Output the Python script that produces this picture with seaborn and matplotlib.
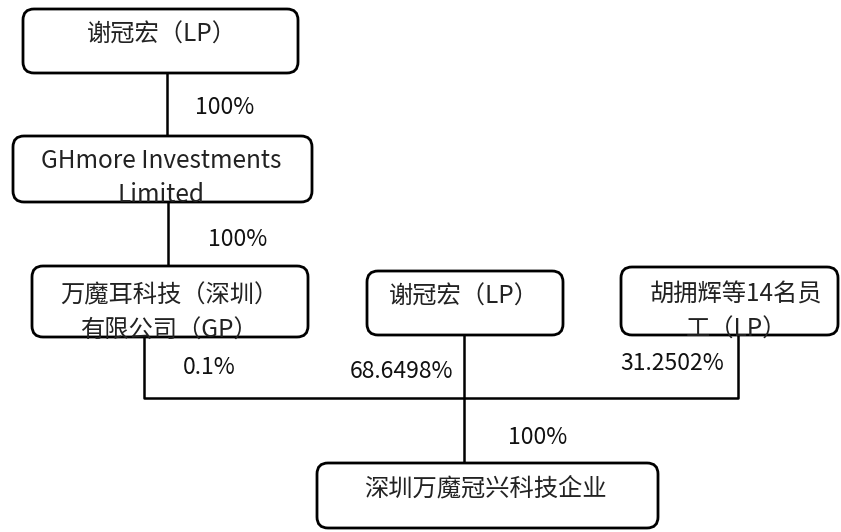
import matplotlib
matplotlib.use("Agg")
import matplotlib.pyplot as plt
import seaborn as sns
from matplotlib.patches import FancyBboxPatch

# plain white canvas
sns.set_style("white")
plt.rcParams['font.family'] = ['Noto Sans CJK SC', 'DejaVu Sans']

# node labels and ownership shares
node_names = [
    "谢冠宏（LP）",
    "GHmore Investments\nLimited",
    "万魔耳科技（深圳）\n有限公司（GP）",
    "谢冠宏（LP）",
    "胡拥辉等14名员\n工（LP）",
    "深圳万魔冠兴科技企业",
]
share_labels = ["100%", "100%", "0.1%", "68.6498%", "31.2502%", "100%"]

# layout in pixel units (x0, y0, x1, y1)
boxes = [
    (23, 9, 298, 73),
    (13, 136, 312, 202),
    (32, 266, 308, 337),
    (367, 271, 563, 335),
    (621, 267, 838, 335),
    (317, 463, 658, 528),
]
text_pos = [(162, 35), (161, 178), (169, 313), (464, 297), (736, 312), (485, 488)]
share_pos = [(225, 107), (238, 240), (209, 368), (402, 372), (672, 363), (538, 437)]

fig = plt.figure(figsize=(8.41, 5.32), dpi=100)
ax = fig.add_axes([0, 0, 1, 1])
ax.set_xlim(0, 841)
ax.set_ylim(532, 0)
ax.axis("off")

# boxes
for (x0, y0, x1, y1), name, (tx, ty) in zip(boxes, node_names, text_pos):
    ax.add_patch(FancyBboxPatch(
        (x0, y0), x1 - x0, y1 - y0,
        boxstyle="round,pad=0,rounding_size=11",
        facecolor="white", edgecolor="black", linewidth=2, zorder=2
    ))
    ax.text(tx, ty, name, ha="center", va="center", fontsize=17.5,
            linespacing=1.45, color="#222222", zorder=3)

# connectors
lw = 1.8
ax.plot([167, 167], [73, 136], color="black", lw=lw, zorder=1)
ax.plot([168, 168], [202, 266], color="black", lw=lw, zorder=1)
ax.plot([144, 144, 738, 738], [337, 398, 398, 335], color="black", lw=lw, zorder=1)
ax.plot([464, 464], [335, 463], color="black", lw=lw, zorder=1)

# percentages
for label, (px, py) in zip(share_labels, share_pos):
    ax.text(px, py, label, ha="center", va="center", fontsize=16.5,
            color="#111111", zorder=3)

fig.savefig("out.png", dpi=100)
